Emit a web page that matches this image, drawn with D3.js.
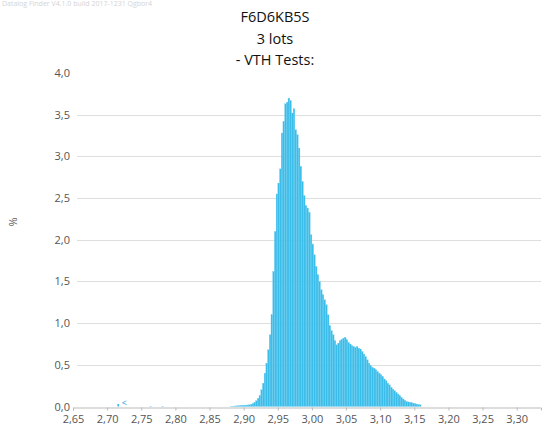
<!DOCTYPE html>
<html>
<head>
<meta charset="utf-8">
<script src="https://cdn.jsdelivr.net/npm/d3@7"></script>
<style>
  body { margin: 0; background: #fff; }
  svg { display: block; font-family: "Open Sans", "Noto Sans", sans-serif; }
</style>
</head>
<body>
<div id="chart"></div>
<script>
"use strict";

// chart texts
var titleLines = ["F6D6KB5S", "3 lots", "- VTH Tests:"];
var footnote = "Datalog Finder V4.1.0 build 2017-1231 Qgbor4";
var yLabel = "%";

// histogram: bins of 0.0025 starting at binStart
var binStart = 2.88;
var binWidth = 0.0025;
var binValues = [
  0.003, 0.004, 0.005, 0.007, 0.008, 0.010, 0.012, 0.014, 0.016, 0.017,
  0.019, 0.020, 0.027, 0.037, 0.047, 0.070, 0.100, 0.130, 0.200, 0.280,
  0.400, 0.520, 0.680, 0.860, 1.100, 1.620, 2.100, 2.550, 2.680, 2.850,
  3.280, 3.420, 3.630, 3.650, 3.700, 3.670, 3.520, 3.570, 3.320, 3.260,
  3.100, 2.880, 2.700, 2.530, 2.410, 2.380, 2.330, 2.060, 1.950, 1.820,
  1.680, 1.580, 1.500, 1.400, 1.340, 1.280, 1.220, 1.100, 0.970, 0.910,
  0.860, 0.790, 0.740, 0.760, 0.790, 0.800, 0.820, 0.830, 0.800, 0.770,
  0.750, 0.730, 0.720, 0.710, 0.720, 0.700, 0.690, 0.660, 0.630, 0.600,
  0.560, 0.520, 0.490, 0.470, 0.460, 0.440, 0.420, 0.400, 0.380, 0.360,
  0.330, 0.310, 0.280, 0.260, 0.230, 0.210, 0.190, 0.170, 0.150, 0.130,
  0.110, 0.090, 0.075, 0.060, 0.055, 0.050, 0.045, 0.040, 0.035, 0.030,
  0.025, 0.020
];

// isolated low readings
var outlierX = [2.7150, 2.7625, 2.7800];
var outlierY = [0.030, 0.006, 0.006];
var lowLimitMark = { v: 2.7215, label: "<" };

// axes
var xTicks = [2.65, 2.70, 2.75, 2.80, 2.85, 2.90, 2.95, 3.00, 3.05, 3.10, 3.15, 3.20, 3.25, 3.30];
var yTicks = [0, 0.5, 1.0, 1.5, 2.0, 2.5, 3.0, 3.5, 4.0];

var W = 547, H = 427;
var barColor = "#3bbdea";

var svg = d3.select("#chart").append("svg")
    .attr("width", W)
    .attr("height", H);

var locale = d3.formatLocale({ decimal: ",", thousands: ".", grouping: [3], currency: ["", ""] });
var fmt2 = locale.format(".2f");
var fmt1 = locale.format(".1f");

var x = d3.scaleLinear()
    .domain([2.65, 3.3356])
    .range([73, 541]);

var y = d3.scaleLinear()
    .domain([0, 4])
    .range([406.5, 73]);

// faint footnote
svg.append("text")
    .attr("x", 2)
    .attr("y", 6)
    .attr("font-size", 7)
    .attr("fill", "#d4d4d4")
    .text(footnote);

// title
svg.selectAll("text.title")
    .data(titleLines)
    .enter()
    .append("text")
    .attr("class", "title")
    .attr("x", 275)
    .attr("y", (d, i) => 22 + i * 21.5)
    .attr("text-anchor", "middle")
    .attr("font-size", 14.5)
    .attr("fill", "#111")
    .text(d => d);

// y grid
svg.append("g")
    .selectAll("line")
    .data(yTicks.filter(d => d > 0 && d < 4))
    .enter()
    .append("line")
    .attr("x1", 77)
    .attr("x2", 541)
    .attr("y1", d => Math.round(y(d)) + 0.5)
    .attr("y2", d => Math.round(y(d)) + 0.5)
    .attr("stroke", "#dedede")
    .attr("stroke-width", 1);

// y axis labels
var yAxis = svg.append("g")
    .attr("transform", "translate(70,0)")
    .call(d3.axisLeft(y).tickValues(yTicks).tickFormat(fmt1).tickSize(0).tickPadding(0));
yAxis.select(".domain").remove();
yAxis.selectAll("text")
    .attr("font-size", 11)
    .attr("fill", "#555")
    .style("font-family", "'Open Sans', 'Noto Sans', sans-serif");

// y title
svg.append("text")
    .attr("transform", "translate(17,222) rotate(-90)")
    .attr("text-anchor", "middle")
    .attr("font-size", 11)
    .attr("fill", "#555")
    .text(yLabel);

// bars
var bins = binValues.map((v, i) => ({ x0: binStart + i * binWidth, x1: binStart + (i + 1) * binWidth, v: v }));
svg.append("g")
    .selectAll("rect")
    .data(bins)
    .enter()
    .append("rect")
    .attr("x", d => x(d.x0))
    .attr("width", d => x(d.x1) - x(d.x0))
    .attr("y", d => y(d.v))
    .attr("height", d => y(0) - y(d.v))
    .attr("fill", barColor)
    .attr("stroke", "#6fcdf0")
    .attr("stroke-width", 0.25);

// outliers
svg.append("g")
    .selectAll("rect")
    .data(outlierX.map((v, i) => ({ x0: v, v: outlierY[i] })))
    .enter()
    .append("rect")
    .attr("x", d => x(d.x0))
    .attr("width", d => x(d.x0 + binWidth) - x(d.x0))
    .attr("y", d => y(d.v))
    .attr("height", d => y(0) - y(d.v))
    .attr("fill", barColor);

svg.append("text")
    .attr("x", x(lowLimitMark.v))
    .attr("y", y(0) - 1)
    .attr("font-size", 9)
    .attr("fill", "#2a9bd8")
    .text(lowLimitMark.label);

// x axis
var xAxis = svg.append("g")
    .attr("transform", "translate(0," + (Math.round(y(0)) + 0.5) + ")")
    .call(d3.axisBottom(x).tickValues(xTicks).tickFormat(fmt2).tickSizeOuter(0).tickSize(3).tickPadding(5));
xAxis.select(".domain").attr("stroke", "#bbb");
xAxis.selectAll(".tick line").attr("stroke", "#bbb");
xAxis.selectAll("text")
    .attr("font-size", 11)
    .attr("fill", "#555")
    .style("font-family", "'Open Sans', 'Noto Sans', sans-serif");
</script>
</body>
</html>
